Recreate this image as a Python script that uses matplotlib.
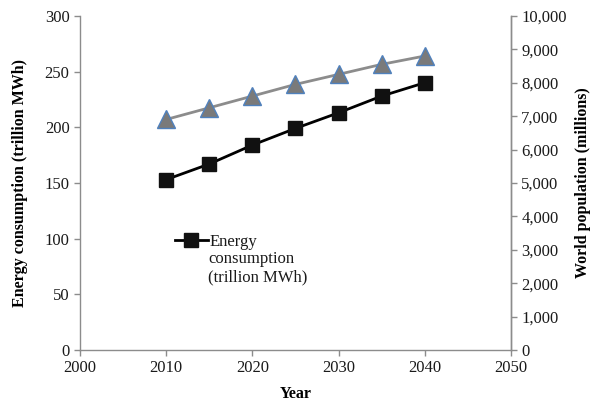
import matplotlib
matplotlib.use("Agg")
import matplotlib.pyplot as plt
from matplotlib.ticker import FuncFormatter

years = [2010, 2015, 2020, 2025, 2030, 2035, 2040]
energy = [153, 167, 184, 199, 213, 228, 240]
population = [6900, 7250, 7600, 7950, 8250, 8550, 8800]
x_ticks = [2000, 2010, 2020, 2030, 2040, 2050]

plt.rcParams['font.family'] = ['Liberation Serif', 'DejaVu Serif']
fig = plt.figure(figsize=(5.92, 4.03), dpi=100)
ax = fig.add_axes([0.135, 0.1315, 0.728, 0.829])
ax2 = ax.twinx()

axcol = '#8c8c8c'
ln, = ax.plot(years, energy, color='black', lw=2, marker='s', markersize=10.5,
              markerfacecolor='#111111', markeredgecolor='#111111',
              label='Energy', zorder=3)
ax2.plot(years, population, color='#8c8c8c', lw=2, marker='^', markersize=12.5,
         markerfacecolor='#7a7a7a', markeredgecolor='#4f81bd', markeredgewidth=1)

ax.set_xlim(2000, 2050)
ax.set_ylim(0, 300)
ax2.set_ylim(0, 10000)
ax.set_xticks(x_ticks)
ax.set_yticks(range(0, 301, 50))
ax2.set_yticks(range(0, 10001, 1000))
ax2.yaxis.set_major_formatter(FuncFormatter(lambda v, p: f"{int(v):,}"))

for a in (ax, ax2):
    a.spines['top'].set_visible(False)
    for s in ('left', 'right', 'bottom'):
        a.spines[s].set_color(axcol)
        a.spines[s].set_linewidth(1)
    a.tick_params(colors=axcol, labelcolor='#1a1a1a', labelsize=12, length=4, width=1)
ax2.spines['left'].set_visible(False)
ax2.spines['bottom'].set_visible(False)

ax.set_xlabel('Year', fontweight='bold', fontsize=11.5, labelpad=7)
ax.set_ylabel('Energy consumption (trillion MWh)', fontweight='bold', fontsize=11.5, labelpad=12)
ax2.set_ylabel('World population (millions)', fontweight='bold', fontsize=11.5, labelpad=6)

leg = ax.legend(handles=[ln], loc='center left', bbox_to_anchor=(0.22, 0.324),
                frameon=False, fontsize=12, handlelength=2.0, handletextpad=0.1,
                borderaxespad=0, borderpad=0, labelspacing=0)
ax.text(0.297, 0.295, 'consumption\n(trillion MWh)', transform=ax.transAxes,
        ha='left', va='top', fontsize=12, linespacing=1.2, color='#1a1a1a')
for t in leg.get_texts():
    t.set_color('#1a1a1a')

fig.savefig('out.png', dpi=100)
